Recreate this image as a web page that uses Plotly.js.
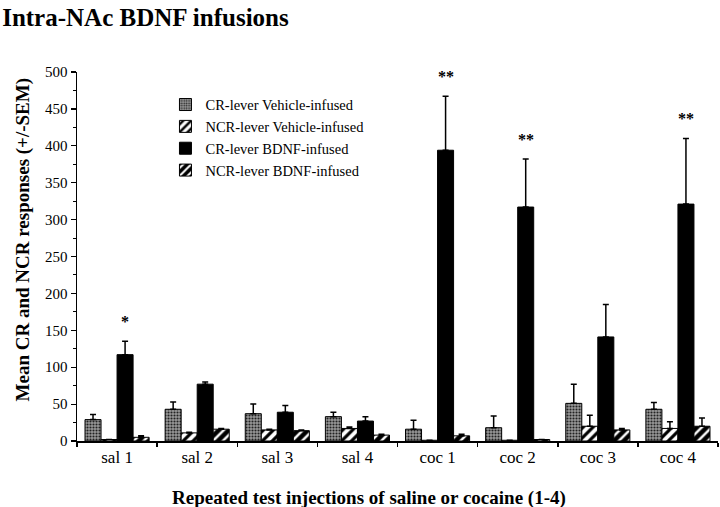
<!DOCTYPE html>
<html>
<head>
<meta charset="utf-8">
<script src="https://cdn.plot.ly/plotly-3.0.1.min.js"></script>
<style>html,body{margin:0;padding:0;background:#fff;}#chart{width:720px;height:507px;}</style>
</head>
<body>
<div id="chart"></div>
<script>
// Data
const categories = ['sal 1','sal 2','sal 3','sal 4','coc 1','coc 2','coc 3','coc 4'];
const seriesNames = ['CR-lever Vehicle-infused','NCR-lever Vehicle-infused','CR-lever BDNF-infused','NCR-lever BDNF-infused'];
const crVehicle     = [29, 43, 37, 33, 16, 18, 51, 43];
const crVehicleSem  = [7, 10, 13, 6, 12, 16, 26, 9];
const ncrVehicle    = [2, 11, 15, 17, 1, 1, 20, 17];
const ncrVehicleSem = [0, 1, 1, 2, 0, 0, 15, 9];
const crBdnf        = [117, 77, 39, 27, 394, 317, 141, 321];
const crBdnfSem     = [18, 3, 9, 6, 73, 65, 44, 89];
const ncrBdnf       = [5, 16, 14, 8, 7, 2, 15, 20];
const ncrBdnfSem    = [2, 1, 1, 1, 2, 0, 2, 11];
const stars = ['*', '', '', '', '**', '**', '', '**'];
const xTitle = 'Repeated test injections of saline or cocaine (1-4)';
const yTitle = 'Mean CR and NCR responses (+/-SEM)';

const serif = 'Liberation Serif, Times New Roman, serif';

function errs(a){ return {type:'data', symmetric:false, array:a, arrayminus:a.map(()=>0),
  color:'#000', thickness:1.5, width:3}; }

const traces = [
  {name: seriesNames[0], x: categories, y: crVehicle, error_y: errs(crVehicleSem),
   marker:{color:'#777', line:{color:'#000', width:1},
     pattern:{shape:'.', fgcolor:'#222', bgcolor:'#999', size:3, solidity:0.4}}},
  {name: seriesNames[1], x: categories, y: ncrVehicle, error_y: errs(ncrVehicleSem),
   marker:{color:'#fff', line:{color:'#000', width:1},
     pattern:{shape:'/', fgcolor:'#000', bgcolor:'#fff', size:7, solidity:0.45}}},
  {name: seriesNames[2], x: categories, y: crBdnf, error_y: errs(crBdnfSem),
   marker:{color:'#000', line:{color:'#000', width:1}}},
  {name: seriesNames[3], x: categories, y: ncrBdnf, error_y: errs(ncrBdnfSem),
   marker:{color:'#000', line:{color:'#000', width:1},
     pattern:{shape:'/', fgcolor:'#fff', bgcolor:'#000', size:7, solidity:0.35}}}
].map(t => Object.assign({type:'bar'}, t));

const annotations = [];
stars.forEach((s, i) => {
  if (!s) return;
  annotations.push({x: i + 0.1, y: crBdnf[i] + crBdnfSem[i], xref:'x', yref:'y',
    text: '<b>' + s + '</b>', showarrow:false, yanchor:'bottom', yshift:9,
    font:{family: serif, size:16, color:'#000'}});
});
annotations.push({text:'<b>' + xTitle + '</b>', xref:'paper', yref:'paper', x:0.455, y:-0.155,
  xanchor:'center', yanchor:'middle', showarrow:false, font:{family: serif, size:19, color:'#000'}});
annotations.push({text:'<b>' + yTitle + '</b>', xref:'paper', yref:'paper', x:-0.085, y:0.545,
  xanchor:'center', yanchor:'middle', textangle:-90, showarrow:false,
  font:{family: serif, size:19, color:'#000'}});

const layout = {
  width:720, height:507,
  margin:{l:77, r:2, t:72, b:66},
  paper_bgcolor:'#fff', plot_bgcolor:'#fff',
  font:{family: serif, color:'#000'},
  title:{text:'<b>Intra-NAc BDNF infusions</b>', x:0.003, xanchor:'left', y:0.965, yanchor:'middle',
    font:{family: serif, size:25, color:'#000'}},
  barmode:'group', bargap:0.2, bargroupgap:0,
  showlegend:true,
  legend:{x:0.138, y:0.955, xanchor:'left', yanchor:'top', bgcolor:'rgba(0,0,0,0)',
    font:{family: serif, size:14.5, color:'#000'}, itemwidth:30, tracegroupgap:0},
  xaxis:{type:'category', showline:true, linecolor:'#000', linewidth:1.5,
    ticks:'outside', tickson:'boundaries', ticklen:4, tickcolor:'#000', tickwidth:1.5,
    tickfont:{family: serif, size:17, color:'#000'}, showgrid:false, zeroline:false},
  yaxis:{range:[0,500], dtick:50, showline:true, linecolor:'#000', linewidth:1.5,
    ticks:'outside', ticklen:5, tickcolor:'#000', tickwidth:1.2,
    minor:{dtick:25, ticks:'outside', ticklen:3, tickcolor:'#000', tickwidth:1},
    tickfont:{family: serif, size:15, color:'#000'}, showgrid:false, zeroline:false},
  annotations: annotations
};

Plotly.newPlot('chart', traces, layout, {displayModeBar:false, staticPlot:true});
</script>
</body>
</html>
